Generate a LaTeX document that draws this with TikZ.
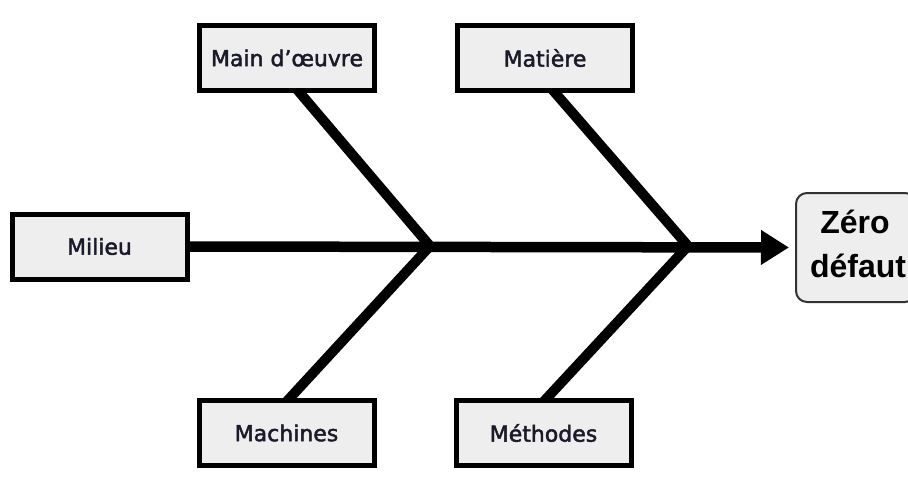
\documentclass[tikz,border=0pt]{standalone}
\usepackage{fontspec}
\setmainfont{DejaVu Sans}
\newfontfamily\labfont{DejaVu Sans}[FakeBold=2]
\newfontfamily\zerofont{Liberation Sans}
\usetikzlibrary{arrows.meta}
\pgfdeclarelayer{background}
\pgfsetlayers{background,main}
\definecolor{boxfill}{HTML}{EEEEEE}
\definecolor{zeroborder}{HTML}{333333}
\definecolor{labeltext}{HTML}{1A1A2A}
\tikzset{
  catbox/.style={draw=black, line width=5pt, fill=boxfill, minimum width=175pt, minimum height=65pt, inner sep=0pt, text=labeltext, font=\labfont\fontsize{22}{26}\selectfont},
  zerobox/.style={draw=zeroborder, line width=2pt, fill=boxfill, rounded corners=11pt, minimum width=120pt, minimum height=109pt, inner sep=0pt},
  zerotext/.style={font=\zerofont\bfseries\fontsize{32}{44}\selectfont, inner sep=0pt, anchor=base, text=black},
  bone/.style={line width=10pt, line join=miter, black},
  spine/.style={line width=10.5pt, black, -{Triangle[length=28pt,width=33pt]}}
}
\begin{document}
\begin{tikzpicture}[x=1pt,y=-1pt]
\useasboundingbox (0,0) rectangle (908,479);
\node[catbox] (main) at (287,58) {Main d’œuvre};
\node[catbox] (mat) at (545,58) {Matière};
\node[catbox] (mil) at (99.5,246.5) {Milieu};
\node[catbox] (mach) at (286.5,433) {Machines};
\node[catbox] (meth) at (543.5,433) {Méthodes};
\node[zerobox] (zero) at (856,247.5) {};
\node[zerotext] (zt1) at (855,233) {Zéro};
\node[zerotext] (zt2) at (858,277) {défaut};
\coordinate (j1) at (430,246);
\coordinate (j2) at (688,246);
\coordinate (mainfoot) at (289,80);
\coordinate (matfoot) at (544,80);
\coordinate (machfoot) at (277,412);
\coordinate (methfoot) at (534,412);
\begin{pgfonlayer}{background}
\draw[bone] (mainfoot) -- (j1) -- (machfoot);
\draw[bone] (matfoot) -- (j2) -- (methfoot);
\draw[spine, shorten >=6pt] (mil.east) -- (zero.west);
\end{pgfonlayer}
\end{tikzpicture}
\end{document}
